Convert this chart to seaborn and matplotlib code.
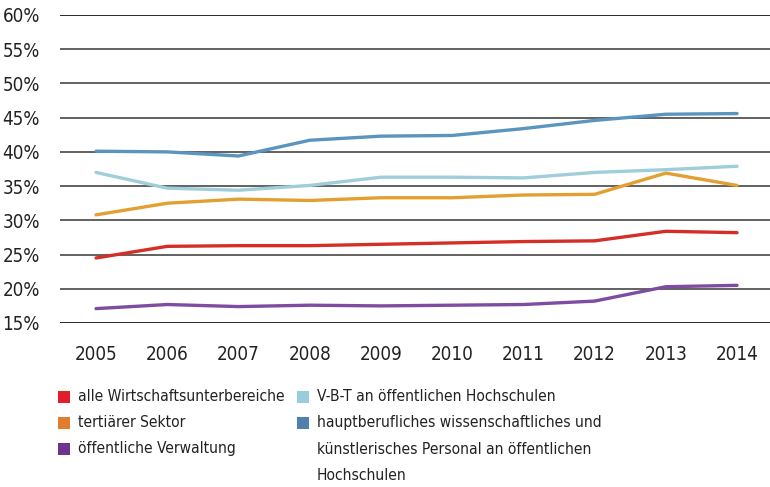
"""Line chart: shares by sector 2005-2014, saved to out.png."""

import matplotlib
matplotlib.use("Agg")

import matplotlib.pyplot as plt
from matplotlib.patches import Rectangle
import pandas as pd
import seaborn as sns

years = list(range(2005, 2015))

alle_wirtschaft = [24.5, 26.2, 26.3, 26.3, 26.5, 26.7, 26.9, 27.0, 28.4, 28.2]
tertiaer = [30.8, 32.5, 33.1, 32.9, 33.3, 33.3, 33.7, 33.8, 36.9, 35.1]
verwaltung = [17.1, 17.7, 17.4, 17.6, 17.5, 17.6, 17.7, 18.2, 20.3, 20.5]
vbt_hochschulen = [37.0, 34.7, 34.4, 35.1, 36.3, 36.3, 36.2, 37.0, 37.4, 37.9]
personal_hochschulen = [40.1, 40.0, 39.4, 41.7, 42.3, 42.4, 43.4, 44.6, 45.5, 45.6]

series_names = [
    "alle Wirtschaftsunterbereiche",
    "tertiärer Sektor",
    "öffentliche Verwaltung",
    "V-B-T an öffentlichen Hochschulen",
    "hauptberufliches wissenschaftliches und\nkünstlerisches Personal an öffentlichen\nHochschulen",
]
series_values = [alle_wirtschaft, tertiaer, verwaltung, vbt_hochschulen,
                 personal_hochschulen]

y_ticks = [15, 20, 25, 30, 35, 40, 45, 50, 55, 60]

line_colors = ["#D42E27", "#E3A032", "#7E4CA0", "#9FCEDA", "#5B94BE"]
legend_colors = ["#E11F2A", "#E27C2E", "#6E338C", "#99CCDD", "#5080AE"]

df = pd.DataFrame({
    "year": years * len(series_names),
    "value": sum(series_values, []),
    "series": [name for name in series_names for _ in years],
})

sns.set_theme(style="white")
plt.rcParams["font.family"] = ["DejaVu Sans"]
plt.rcParams["font.stretch"] = "condensed"
plt.rcParams["text.color"] = "#222222"

fig = plt.figure(figsize=(7.7, 4.87), dpi=100)
ax = fig.add_axes([60 / 770, 1 - 323 / 487, 710 / 770, 308 / 487])

sns.lineplot(data=df, x="year", y="value", hue="series",
             palette=dict(zip(series_names, line_colors)),
             linewidth=2.4, legend=False, ax=ax)

for t in y_ticks:
    ax.axhline(t, color="#1a1a1a" if t in (15, 60) else "#555555",
               linewidth=1.3, zorder=0)

ax.set_xlim(2004.494, 2014.463)
ax.set_ylim(15, 60)
ax.set_xticks(years)
ax.set_xticklabels([str(y) for y in years])
ax.set_yticks(y_ticks)
ax.set_yticklabels([f"{t}%" for t in y_ticks])
ax.tick_params(axis="both", length=0, labelsize=13.5, colors="#222222")
ax.tick_params(axis="y", pad=14.5)
ax.tick_params(axis="x", pad=16)
ax.set_xlabel("")
ax.set_ylabel("")
sns.despine(ax=ax, left=True, bottom=True)

# legend drawn by hand: square at the first line of each label
W, H = 770, 487
col_x = [58, 297]
row_y = [397, 423, 449]
slots = [(0, 0), (0, 1), (0, 2), (1, 0), (1, 1)]
for (col, row), name, color in zip(slots, series_names, legend_colors):
    x, y = col_x[col], row_y[row]
    fig.patches.append(Rectangle((x / W, 1 - (y + 6) / H), 12 / W, 12 / H,
                                 transform=fig.transFigure, facecolor=color,
                                 edgecolor="none"))
    fig.text((x + 20) / W, 1 - (y - 8) / H, name, fontsize=11.2,
             va="top", ha="left", linespacing=1.97)

fig.savefig("out.png", dpi=100)
